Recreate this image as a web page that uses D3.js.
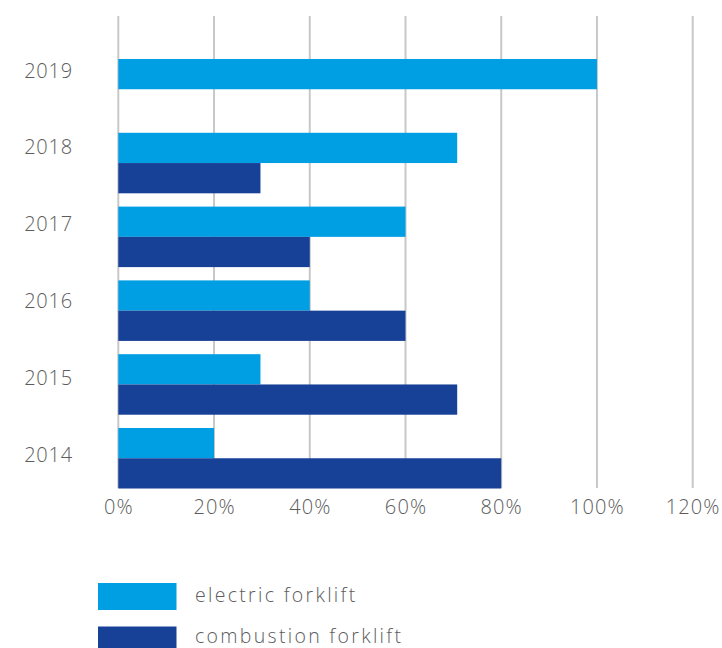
<!DOCTYPE html>
<html>
<head>
<meta charset="utf-8">
<script src="https://cdn.jsdelivr.net/npm/d3@7/dist/d3.min.js"></script>
<style>
  html, body { margin: 0; padding: 0; background: #fff; }
  svg { display: block; }
  text { font-family: "Open Sans", Lato, sans-serif; fill: #5c5c5c; font-weight: 300; }
</style>
</head>
<body>
<svg id="chart" width="722" height="648"></svg>
<script>
// ---- data ----
const years = ["2019", "2018", "2017", "2016", "2015", "2014"];
const seriesNames = ["electric forklift", "combustion forklift"];
const electric = [100, 70.8, 60, 40, 29.7, 20];
const combustion = [0, 29.7, 40, 60, 70.8, 80];
const xTicks = [0, 20, 40, 60, 80, 100, 120];
const colors = ["#009fe3", "#174097"];

const svg = d3.select("#chart");

const x = d3.scaleLinear().domain([0, 120]).range([118.3, 692.7]);
const y = d3.scaleBand().domain(years).range([45.7, 501.8]).paddingInner(0.18).paddingOuter(0.18);
const sub = d3.scaleBand().domain(seriesNames).range([0, y.bandwidth()]);
const labelY = d3.scalePoint().domain(years).range([70, 454]);

// gridlines
svg.append("g").selectAll("line").data(xTicks).join("line")
  .attr("x1", d => x(d)).attr("x2", d => x(d))
  .attr("y1", 16).attr("y2", 488)
  .attr("stroke", "#c8c8c8").attr("stroke-width", 2);

// bars
const rows = years.map((yr, i) => ({ year: yr, values: [electric[i], combustion[i]] }));
const g = svg.append("g").selectAll("g").data(rows).join("g")
  .attr("transform", d => `translate(0,${y(d.year)})`);
g.selectAll("rect").data(d => d.values.map((v, j) => ({ v, j })).filter(e => e.v > 0)).join("rect")
  .attr("x", x(0))
  .attr("y", e => sub(seriesNames[e.j]))
  .attr("width", e => x(e.v) - x(0))
  .attr("height", sub.bandwidth())
  .attr("fill", e => colors[e.j]);

// year labels
svg.append("g").selectAll("text").data(years).join("text")
  .attr("x", 73).attr("y", d => labelY(d))
  .attr("text-anchor", "end").attr("dominant-baseline", "central")
  .attr("font-size", 20).attr("letter-spacing", 0.8).text(d => d);

// x axis labels
const xAxis = d3.axisBottom(x).tickValues(xTicks).tickFormat(d => d + "%").tickSize(0).tickPadding(0);
const ax = svg.append("g").attr("transform", "translate(0,500)").call(xAxis);
ax.select(".domain").remove();
ax.selectAll("text").attr("font-size", 20).attr("fill", "#5c5c5c")
  .attr("letter-spacing", 1.1)
  .style("font-family", "'Open Sans', Lato, sans-serif").style("font-weight", 300)
  .attr("dy", "0.72em");

// legend
const leg = svg.append("g").selectAll("g").data(seriesNames).join("g")
  .attr("transform", (d, i) => `translate(98,${583 + i * 43.5})`);
leg.append("rect").attr("width", 78.5).attr("height", 27).attr("fill", (d, i) => colors[i]);
leg.append("text").attr("x", 97).attr("y", (d, i) => 11 - i * 2).attr("dominant-baseline", "central")
  .attr("font-size", 19.5).attr("letter-spacing", 2.3).text(d => d);
</script>
</body>
</html>
